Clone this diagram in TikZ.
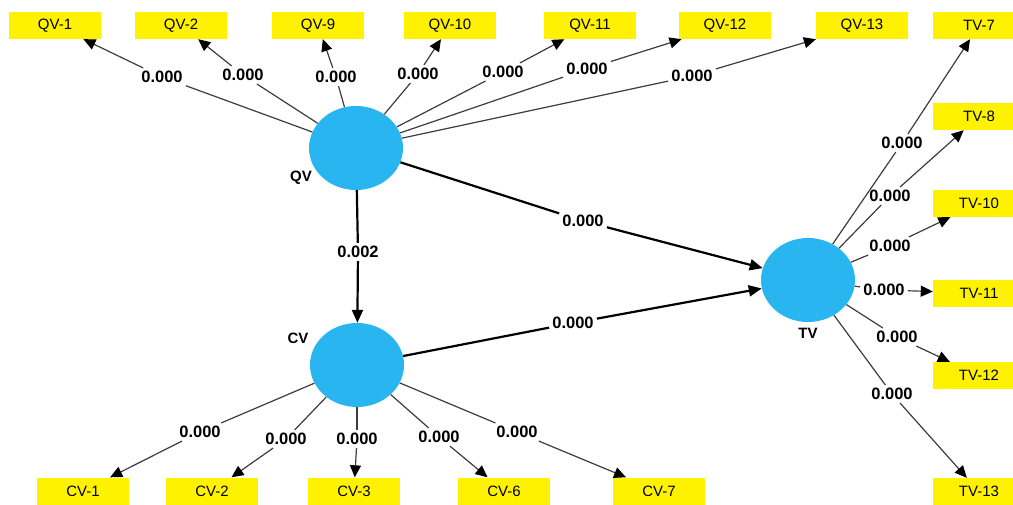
\documentclass[tikz,border=0pt]{standalone}
\usepackage{fontspec}
\setmainfont{Liberation Sans}
\usepackage{tikz}
\usetikzlibrary{arrows.meta,shapes.geometric}
\definecolor{lvblue}{RGB}{41,182,240}
\definecolor{loadgray}{RGB}{60,60,60}

\begin{document}
\begin{tikzpicture}[x=1pt,y=-1pt,>={Triangle[length=12pt,width=11pt,color=black]},
  lv/.style={ellipse,fill=lvblue,minimum width=94pt,minimum height=84pt,inner sep=0pt},
  ind/.style={fill=yellow,minimum width=92pt,minimum height=27pt,inner sep=0pt,font=\fontsize{15}{15}\selectfont},
  val/.style={inner sep=3pt,font=\fontsize{16.5}{17}\selectfont\bfseries},
  lvname/.style={font=\fontsize{15}{15}\selectfont\bfseries},
  load/.style={draw=loadgray,line width=1.2pt},
  rel/.style={draw=black,line width=2.2pt}]
\clip (0,0) rectangle (1013,504);
\node[lv] (QV) at (356,148) {};
\node[lv] (CV) at (357,365) {};
\node[lv] (TV) at (808,280) {};
\node[lvname] (QVname) at (301,178) {QV};
\node[lvname] (CVname) at (298,338) {CV};
\node[lvname] (TVname) at (808,333) {TV};
\node[ind] (q1) at (55,25.5) {QV-1};
\node[ind] (q2) at (181,25.5) {QV-2};
\node[ind] (q9) at (318,25.5) {QV-9};
\node[ind] (q10) at (450,25.5) {QV-10};
\node[ind] (q11) at (590,25.5) {QV-11};
\node[ind] (q12) at (725,25.5) {QV-12};
\node[ind] (q13) at (862,25.5) {QV-13};
\node[ind] (t7) at (979,25.5) {TV-7};
\node[ind] (t8) at (979,116.5) {TV-8};
\node[ind] (t10) at (979,203.5) {TV-10};
\node[ind] (t11) at (979,293) {TV-11};
\node[ind] (t12) at (979,375.5) {TV-12};
\node[ind] (t13) at (979,491.5) {TV-13};
\node[ind] (c1) at (83,491) {CV-1};
\node[ind] (c2) at (212,491) {CV-2};
\node[ind] (c3) at (354,491) {CV-3};
\node[ind] (c6) at (504,491) {CV-6};
\node[ind] (c7) at (659,491) {CV-7};
\node[val] (vq1) at (162,77) {0.000};
\node[val] (vq2) at (243,75) {0.000};
\node[val] (vq9) at (336,77) {0.000};
\node[val] (vq10) at (418,74) {0.000};
\node[val] (vq11) at (503,72) {0.000};
\node[val] (vq12) at (587,69) {0.000};
\node[val] (vq13) at (692,76) {0.000};
\node[val] (vt7) at (902,143) {0.000};
\node[val] (vt8) at (890,196) {0.000};
\node[val] (vt10) at (890,246) {0.000};
\node[val] (vt11) at (884,290) {0.000};
\node[val] (vt12) at (897,337) {0.000};
\node[val] (vt13) at (892,394) {0.000};
\node[val] (vc1) at (200,432) {0.000};
\node[val] (vc2) at (286,439) {0.000};
\node[val] (vc3) at (357,439) {0.000};
\node[val] (vc6) at (439,437) {0.000};
\node[val] (vc7) at (517,432) {0.000};
\node[val] (vqt) at (583,221) {0.000};
\node[val] (vct) at (573,323) {0.000};
\node[val] (vqc) at (358,252) {0.002};
\draw[rel] (QV) -- (vqt);
\draw[rel,-{Triangle[length=13pt,width=11pt]}] (vqt) -- (TV);
\draw[rel] (CV) -- (vct);
\draw[rel,-{Triangle[length=13pt,width=11pt]}] (vct) -- (TV);
\draw[rel] (QV) -- (vqc);
\draw[rel,-{Triangle[length=13pt,width=11pt]}] (vqc) -- (CV);
\draw[load] (QV) -- (vq1);
\draw[load,->] (vq1) -- (q1);
\draw[load] (QV) -- (vq2);
\draw[load,->] (vq2) -- (q2);
\draw[load] (QV) -- (vq9);
\draw[load,->] (vq9) -- (q9);
\draw[load] (QV) -- (vq10);
\draw[load,->] (vq10) -- (q10);
\draw[load] (QV) -- (vq11);
\draw[load,->] (vq11) -- (q11);
\draw[load] (QV) -- (vq12);
\draw[load,->] (vq12) -- (q12);
\draw[load] (QV) -- (vq13);
\draw[load,->] (vq13) -- (q13);
\draw[load] (TV) -- (vt7);
\draw[load,->] (vt7) -- (t7);
\draw[load] (TV) -- (vt8);
\draw[load,->] (vt8) -- (t8);
\draw[load] (TV) -- (vt10);
\draw[load,->] (vt10) -- (t10);
\draw[load] (TV) -- (vt11);
\draw[load,->] (vt11) -- (t11);
\draw[load] (TV) -- (vt12);
\draw[load,->] (vt12) -- (t12);
\draw[load] (TV) -- (vt13);
\draw[load,->] (vt13) -- (t13);
\draw[load] (CV) -- (vc1);
\draw[load,->] (vc1) -- (c1);
\draw[load] (CV) -- (vc2);
\draw[load,->] (vc2) -- (c2);
\draw[load] (CV) -- (vc3);
\draw[load,->] (vc3) -- (c3);
\draw[load] (CV) -- (vc6);
\draw[load,->] (vc6) -- (c6);
\draw[load] (CV) -- (vc7);
\draw[load,->] (vc7) -- (c7);
\end{tikzpicture}
\end{document}
